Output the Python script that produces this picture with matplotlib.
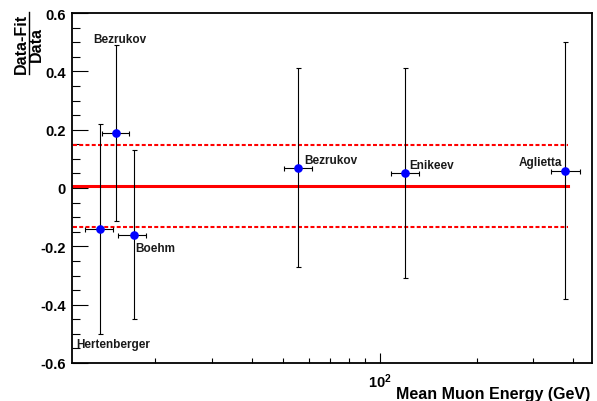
import numpy as np
import matplotlib
matplotlib.use('Agg')
import matplotlib.pyplot as plt
from matplotlib.ticker import LogLocator, NullFormatter, FixedLocator, FixedFormatter, MultipleLocator
from matplotlib.lines import Line2D

plt.rcParams['font.family'] = ['Liberation Sans', 'DejaVu Sans']
plt.rcParams['font.weight'] = 'bold'
plt.rcParams['mathtext.fontset'] = 'custom'
plt.rcParams['mathtext.bf'] = 'Liberation Sans:bold'
plt.rcParams['mathtext.rm'] = 'Liberation Sans:bold'

# Data
labels = ['Hertenberger', 'Bezrukov', 'Boehm', 'Bezrukov', 'Enikeev', 'Aglietta']
energy = [13.4, 15.1, 17.1, 55.6, 120.0, 377.5]
energy_lo = [12.1, 13.6, 15.3, 50.2, 108.3, 341.0]
energy_hi = [14.8, 16.6, 18.7, 61.4, 132.5, 418.0]
resid = [-0.142, 0.19, -0.16, 0.07, 0.05, 0.06]
resid_hi = [0.22, 0.49, 0.13, 0.41, 0.41, 0.50]
resid_lo = [-0.50, -0.112, -0.45, -0.27, -0.31, -0.38]

# label anchor positions (left, baseline)
label_x = [11.35, 12.77, 17.3, 58.1, 123.2, 269.8]
label_y = [-0.546, 0.5015, -0.215, 0.0857, 0.0686, 0.08]

fit_mean = 0.007
band_hi = 0.148
band_lo = -0.133
line_x = [11.1, 385]

energy = np.array(energy)
resid = np.array(resid)
xerr = [energy - np.array(energy_lo), np.array(energy_hi) - energy]
yerr = [resid - np.array(resid_lo), np.array(resid_hi) - resid]

fig = plt.figure(figsize=(5.97, 4.02), dpi=100)
ax = fig.add_axes([72 / 597, 1 - 364 / 402, 520 / 597, 350 / 402])

ax.plot(line_x, [fit_mean, fit_mean], color='red', lw=2.2, zorder=2)
ax.plot(line_x, [band_hi, band_hi], color='red', lw=1.5, dashes=[1.9, 1.1], zorder=2)
ax.plot(line_x, [band_lo, band_lo], color='red', lw=1.5, dashes=[1.9, 1.1], zorder=2)

ax.errorbar(energy, resid, xerr=xerr, yerr=yerr, fmt='none', ecolor='black',
            elinewidth=0.8, capsize=1.8, capthick=0.8, zorder=3)
ax.plot(energy, resid, 'o', color='blue', ms=5.2, mec='blue', zorder=4)

for name, lx, ly in zip(labels, label_x, label_y):
    ax.text(lx, ly, name, fontsize=8.5, fontweight='bold', ha='left', va='baseline',
            color='#1a1a1a')

ax.set_xscale('log')
ax.set_xlim(11.0, 457)
ax.set_ylim(-0.6, 0.6)

ax.xaxis.set_major_locator(FixedLocator([100]))
ax.xaxis.set_major_formatter(FixedFormatter([r'$\mathbf{10^{2}}$']))
ax.xaxis.set_minor_locator(LogLocator(base=10, subs=np.arange(2, 10)))
ax.xaxis.set_minor_formatter(NullFormatter())

yt = [-0.6, -0.4, -0.2, 0, 0.2, 0.4, 0.6]
ax.yaxis.set_major_locator(FixedLocator(yt))
ax.yaxis.set_major_formatter(FixedFormatter(['-0.6', '-0.4', '-0.2', '0', '0.2', '0.4', '0.6']))
ax.yaxis.set_minor_locator(MultipleLocator(0.05))

ax.tick_params(axis='y', which='major', direction='in', length=11.5, width=0.8,
               labelsize=10.5, pad=4.5, right=False)
ax.tick_params(axis='y', which='minor', direction='in', length=5.8, width=0.8, right=False)
ax.tick_params(axis='x', which='major', direction='in', length=7.2, width=0.8,
               labelsize=10.5, pad=6, top=False)
ax.tick_params(axis='x', which='minor', direction='in', length=3.6, width=0.8, top=False)
for lab in ax.get_yticklabels():
    lab.set_fontweight('bold')

for sp in ax.spines.values():
    sp.set_linewidth(1.3)

ax.set_xlabel('Mean Muon Energy (GeV)', fontsize=11.5, fontweight='bold',
              ha='right', va='baseline')
ax.xaxis.set_label_coords((590 - 72) / 520, (364 - 399.5) / 350)

# y label as a fraction
fig.text(21 / 597, 1 - 44 / 402, 'Data-Fit', rotation=90, fontsize=11.5,
         fontweight='bold', ha='center', va='center')
fig.text(36.5 / 597, 1 - 44.5 / 402, 'Data', rotation=90, fontsize=11.5,
         fontweight='bold', ha='center', va='center')
fig.add_artist(Line2D([28.5 / 597, 28.5 / 597], [1 - 13 / 402, 1 - 75 / 402],
                      color='black', lw=1.0, transform=fig.transFigure))

fig.savefig('out.png', dpi=100)
